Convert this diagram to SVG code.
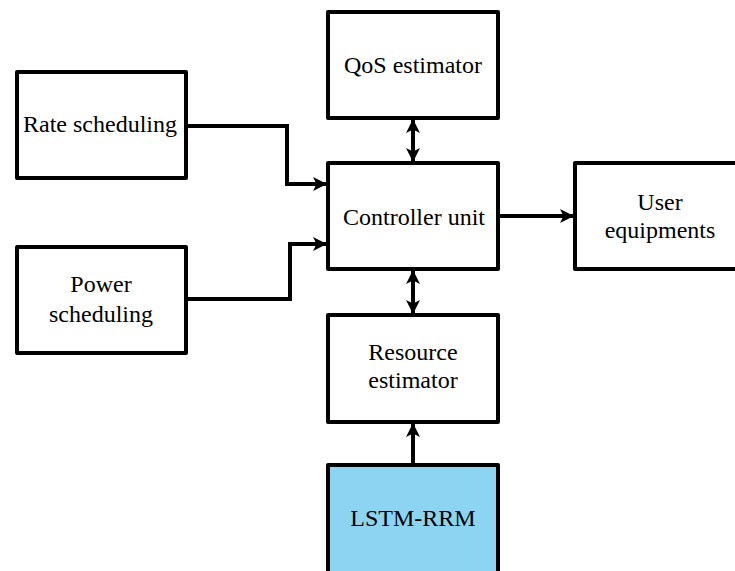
<svg xmlns="http://www.w3.org/2000/svg" width="735" height="571" viewBox="0 0 735 571">
<style>
.box{fill:#fff;stroke:#000;stroke-width:4;stroke-linejoin:round}
.blue{fill:#8dd4f2}
.wire{fill:none;stroke:#000;stroke-width:4}
</style>
<defs>
<marker id="ah" viewBox="0 0 14 14" refX="13" refY="7" markerWidth="14" markerHeight="14" markerUnits="userSpaceOnUse" orient="auto-start-reverse">
<path d="M0,0 L14,7 L0,14 L3.5,7 Z" fill="#000"/>
</marker>
</defs>
<g id="rate"><rect class="box" x="17" y="72" width="169" height="106"/><text font-family="Liberation Serif" font-size="24" text-anchor="middle" x="100" y="132">Rate scheduling</text></g>
<g id="power"><rect class="box" x="17" y="247" width="169" height="106"/><text font-family="Liberation Serif" font-size="24" text-anchor="middle" x="101" y="292">Power</text><text font-family="Liberation Serif" font-size="24" text-anchor="middle" x="101" y="322">scheduling</text></g>
<g id="qos"><rect class="box" x="328" y="12" width="170" height="106"/><text font-family="Liberation Serif" font-size="24" text-anchor="middle" x="413" y="73">QoS estimator</text></g>
<g id="controller"><rect class="box" x="328" y="163" width="170" height="106"/><text font-family="Liberation Serif" font-size="24" text-anchor="middle" x="414" y="225">Controller unit</text></g>
<g id="user"><rect class="box" x="575" y="163" width="170" height="106"/><text font-family="Liberation Serif" font-size="24" text-anchor="middle" x="660" y="210">User</text><text font-family="Liberation Serif" font-size="24" text-anchor="middle" x="660" y="238">equipments</text></g>
<g id="resource"><rect class="box" x="328" y="315" width="170" height="107"/><text font-family="Liberation Serif" font-size="24" text-anchor="middle" x="413" y="360">Resource</text><text font-family="Liberation Serif" font-size="24" text-anchor="middle" x="413" y="388">estimator</text></g>
<g id="lstm"><rect class="box blue" x="328" y="465" width="170" height="120"/><text font-family="Liberation Serif" font-size="24" text-anchor="middle" x="413" y="526">LSTM-RRM</text></g>
<g id="connectors">
<path class="wire" d="M186,126 H287 V184 H326" marker-end="url(#ah)"/>
<path class="wire" d="M186,299 H290 V244 H326" marker-end="url(#ah)"/>
<path class="wire" d="M413,120 V161" marker-start="url(#ah)" marker-end="url(#ah)"/>
<path class="wire" d="M413,271 V313" marker-start="url(#ah)" marker-end="url(#ah)"/>
<path class="wire" d="M498,216 H573" marker-end="url(#ah)"/>
<path class="wire" d="M413,465 V424" marker-end="url(#ah)"/>
</g>
</svg>
